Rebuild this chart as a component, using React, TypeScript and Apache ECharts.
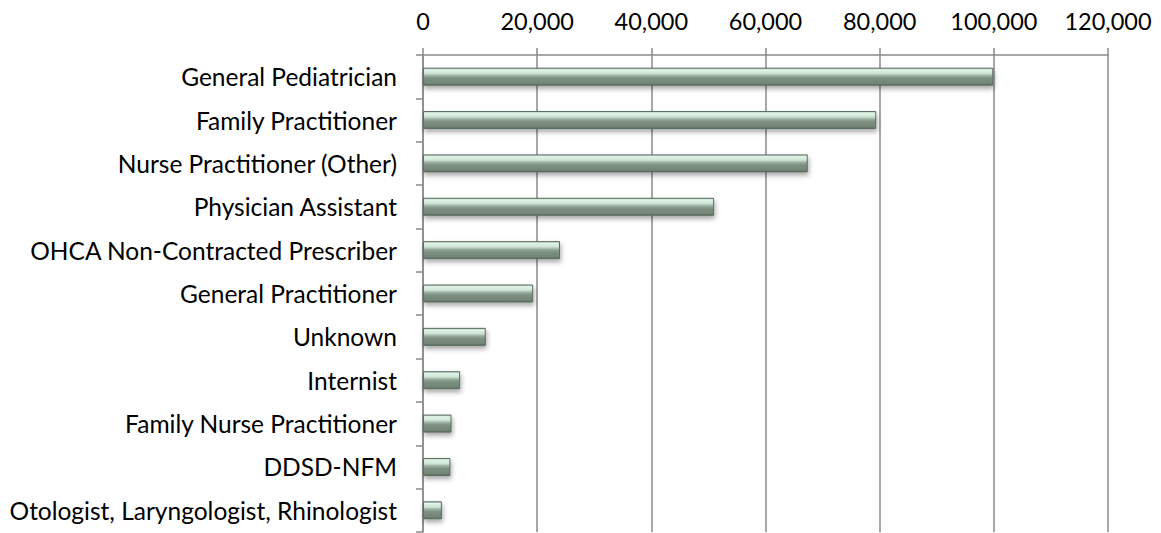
import React, { useEffect, useRef } from "react";
import * as echarts from "echarts";

const categories = [
  "General Pediatrician",
  "Family Practitioner",
  "Nurse Practitioner (Other)",
  "Physician Assistant",
  "OHCA Non-Contracted Prescriber",
  "General Practitioner",
  "Unknown",
  "Internist",
  "Family Nurse Practitioner",
  "DDSD-NFM",
  "Otologist, Laryngologist, Rhinologist",
];

const values = [99900, 79400, 67400, 51000, 24000, 19300, 11000, 6500, 5000, 4800, 3300];

const xMin = 0;
const xMax = 120000;
const xInterval = 20000;

export default function App() {
  const ref = useRef<HTMLDivElement>(null);
  useEffect(() => {
    if (!ref.current) return;
    const chart = echarts.init(ref.current, null, { renderer: "svg" });
    const font = "Lato, 'Open Sans', sans-serif";
    chart.setOption({
      animation: false,
      grid: { left: 423, right: 53, top: 55, bottom: 1, containLabel: false },
      xAxis: {
        type: "value",
        position: "top",
        min: xMin,
        max: xMax,
        interval: xInterval,
        axisLine: { show: true, lineStyle: { color: "#8a8a8a", width: 1.5 } },
        axisTick: { show: true, length: 7, lineStyle: { color: "#8a8a8a", width: 1.5 } },
        splitLine: { show: true, lineStyle: { color: "#8a8a8a", width: 1.5 } },
        axisLabel: {
          color: "#000",
          fontFamily: font,
          fontSize: 23.5,
          margin: 22,
          formatter: (v: number) => v.toLocaleString("en-US"),
        },
      },
      yAxis: {
        type: "category",
        inverse: true,
        data: categories,
        axisLine: { show: true, lineStyle: { color: "#8a8a8a", width: 1.5 } },
        axisTick: { show: true, length: 7, lineStyle: { color: "#8a8a8a", width: 1.5 } },
        axisLabel: {
          color: "#000",
          fontFamily: font,
          fontSize: 24.5,
          margin: 26,
        },
      },
      series: [
        {
          type: "bar",
          data: values,
          barWidth: 18,
          itemStyle: {
            color: new echarts.graphic.LinearGradient(0, 0, 0, 1, [
              { offset: 0, color: "#b5c9bc" },
              { offset: 0.1, color: "#dff3e8" },
              { offset: 0.3, color: "#cfe5d7" },
              { offset: 0.45, color: "#98ad9e" },
              { offset: 0.6, color: "#7c8f81" },
              { offset: 0.9, color: "#728577" },
              { offset: 1, color: "#56655a" },
            ]),
            borderColor: "#5c6c60",
            borderWidth: 1,
            shadowBlur: 5,
            shadowColor: "rgba(0,0,0,0.35)",
            shadowOffsetX: 1,
            shadowOffsetY: 3,
          },
        },
      ],
    });
    return () => chart.dispose();
  }, []);
  return (
    <div
      ref={ref}
      style={{ position: "absolute", left: 0, top: 0, width: 1161, height: 533 }}
    />
  );
}
